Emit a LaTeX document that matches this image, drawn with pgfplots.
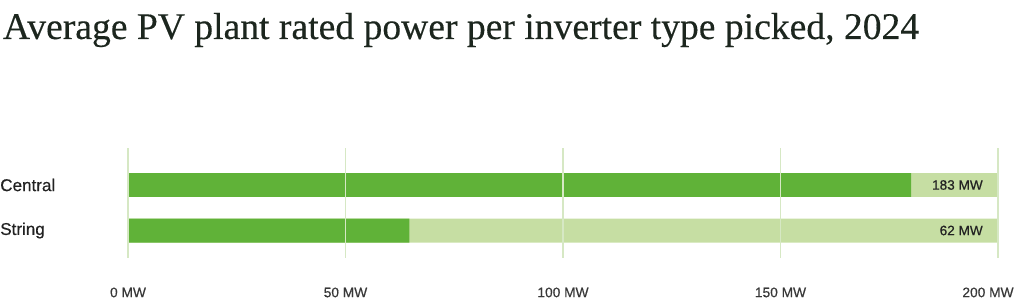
\documentclass[border=0pt]{standalone}
\usepackage{pgfplots}
\pgfplotsset{compat=1.18}
\usepackage{fontspec}
\setmainfont{Liberation Sans}
\newfontfamily\lab[FakeBold=0.5]{Liberation Sans}
\newfontfamily\titlefont[FakeBold=0.3]{Liberation Serif}
\definecolor{darkg}{RGB}{96,178,56}
\definecolor{lightg}{RGB}{198,222,163}
\definecolor{gridg}{RGB}{214,232,196}
\definecolor{txt}{RGB}{34,34,34}
\definecolor{ttl}{RGB}{28,38,30}
\begin{document}
\begin{tikzpicture}
\useasboundingbox (0,0) rectangle (768pt,227.25pt);
\node[anchor=base west, inner sep=0pt, text=ttl] at (2pt,198pt)
  {\resizebox{687pt}{!}{\titlefont Average PV plant rated power per inverter type picked, 2024}};
\begin{axis}[
  at={(96pt,33.75pt)}, anchor=south west,
  scale only axis, width=652.5pt, height=82.5pt,
  xmin=0, xmax=200, ymin=-0.604, ymax=1.813,
  xbar, bar width=0.527, bar shift=0pt,
  axis line style={draw=none},
  major tick length=0pt,
  xtick={0,50,100,150,200},
  xticklabels={0 MW,50 MW,100 MW,150 MW,\hspace*{-15pt}200 MW},
  ytick={0,1}, yticklabels={String,Central},
  xmajorgrids, grid style={gridg, line width=0.9pt},
  axis on top,
  xticklabel style={anchor=north, inner sep=0pt, yshift=-22pt, font=\lab\fontsize{10.3}{12}\selectfont, text=txt!90},
  yticklabel style={anchor=west, inner sep=0pt, xshift=-96pt, font=\lab\fontsize{12.8}{14}\selectfont, text=txt},
]
\addplot[fill=lightg, draw=none,
  point meta=explicit symbolic,
  nodes near coords,
  nodes near coords style={anchor=east, inner sep=0pt, xshift=-11.25pt, font=\lab\fontsize{10.2}{12}\selectfont, text=txt}]
  table[meta=label] {
x y label
200 1 {183 MW}
200 0 {62 MW}
};
\addplot[fill=darkg, draw=none] coordinates {(180,1) (64.7,0)};
\end{axis}
\end{tikzpicture}
\end{document}
